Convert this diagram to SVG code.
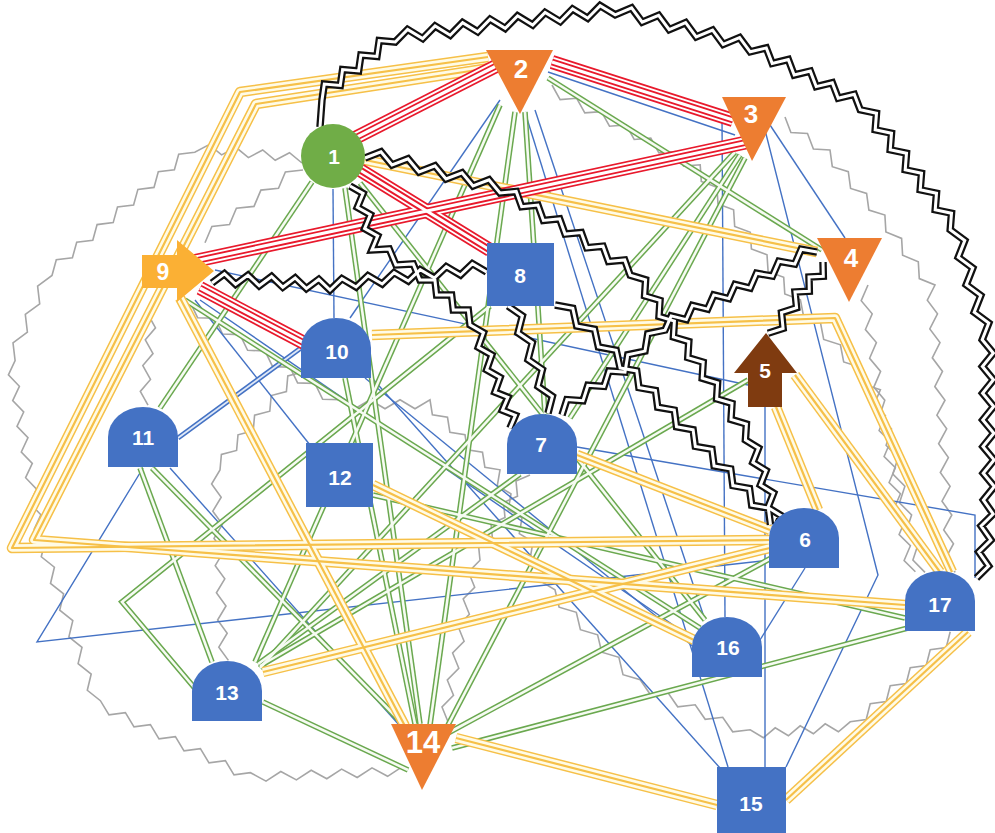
<svg xmlns="http://www.w3.org/2000/svg" xmlns:xlink="http://www.w3.org/1999/xlink" width="995" height="833" viewBox="0 0 995 833">
<style>
.lbl{font-family:"Liberation Sans",Arial,sans-serif;font-weight:bold;fill:#fff;text-anchor:middle}
.blue{fill:#4472c4}
.orange{fill:#ed7d31}
</style>
<defs>
<path id="arch" d="M0,60 V30 A35,30 0 0 1 70,30 V60 Z"/>
<g id="graySet">
<path d="M302,163 l-12.5,-10.3 l-14.3,7.6 l-12.5,-10.3 l-14.3,7.6 l-12.5,-10.3 l-14.3,7.6 l-12.5,-10.3 l-14.3,7.6 l-16.1,2 l-4.3,15.6 l-16.1,2 l-4.3,15.6 l-16.1,2 l-4.3,15.6 l-16.1,2 l-4.3,15.6 l-16.1,2 l-4.3,15.6 l-16.1,2 l-4.3,15.6 l-16.1,2 l-4.3,15.6 l-14.4,10.6 l2.1,17.8 l-14.4,10.6 l2.1,17.8 l-14.4,10.6 l2.1,17.8 l-6.7,14.3 l11,11.4 l-6.7,14.3 l11,11.4 l-6.7,14.3 l11,11.4 l-6.7,14.3 l11,11.4 l-6.7,14.3 l11,11.4 l-6.7,14.3 l11,11.4 l-6.7,14.3 l11,11.4 l-3.9,16.3 l13.1,10.4 l-3.9,16.3 l13.1,10.4 l-3.9,16.3 l13.1,10.4 l-3.9,16.3 l13.1,10.4 l-3.9,16.3 l13.1,10.4 l-3.9,16.3 l13.1,10.4 l8.6,14.1 l16.4,-2.1 l8.6,14.1 l16.4,-2.1 l8.6,14.1 l16.4,-2.1 l8.6,14.1 l16.4,-2.1 l8.6,14.1 l16.4,-2.1 l8.6,14.1 l16.4,-2.1 l15.6,8.4 l14.8,-9.6 l15.6,8.4 l14.8,-9.6 l15.6,8.4 l14.8,-9.6 l15.6,8.4 l14.8,-9.6 l15.6,8.4 l14.8,-9.6"/>
<path d="M785,117 l5.9,15.5 l16.6,1 l5.9,15.5 l16.6,1 l2.3,16.7 l16,5 l2.3,16.7 l16,5 l2.3,16.7 l16,5 l1,16.9 l15.7,6.4 l1,16.9 l15.7,6.4 l1,16.9 l15.7,6.4 l-7.7,15.2 l10.2,13.6 l-7.7,15.2 l10.2,13.6 l-7.7,15.2 l10.2,13.6 l-7.7,15.2 l10.2,13.6 l-8.1,14.9 l9.8,13.8 l-8.1,14.9 l9.8,13.8 l-8.1,14.9 l9.8,13.8 l-8.1,14.9 l9.8,13.8 l-8.1,14.9 l9.8,13.8 l-8.1,14.9 l9.8,13.8"/>
<path d="M868,285 l-6.8,15.7 l11,13.1 l-6.8,15.7 l11,13.1 l-6.8,15.7 l11,13.1 l-6.8,15.7 l11,13.1 l-5.4,16.4 l12.1,12.3 l-5.4,16.4 l12.1,12.3 l-5.4,16.4 l12.1,12.3 l-5.4,16.4 l12.1,12.3 l-5.4,16.4 l12.1,12.3 l-5.4,16.4 l12.1,12.3"/>
<path d="M552,85 l8.1,14.6 l16.6,-1.3 l8.1,14.6 l16.6,-1.3 l8.1,14.6 l16.6,-1.3 l8.1,14.6 l16.6,-1.3 l8.1,14.6 l16.6,-1.3 l8.1,14.6 l16.6,-1.3 l1.1,16.6 l15.6,5.9 l1.1,16.6 l15.6,5.9 l1.1,16.6 l15.6,5.9 l1.1,16.6 l15.6,5.9 l1.1,16.6 l15.6,5.9 l1.1,16.6 l15.6,5.9 l3.3,17.2 l16.7,5.3 l3.3,17.2 l16.7,5.3 l3.3,17.2 l16.7,5.3 l3.3,17.2 l16.7,5.3 l-6.3,14.7 l11.3,11.3 l-6.3,14.7 l11.3,11.3 l-6.3,14.7 l11.3,11.3 l-6.3,14.7 l11.3,11.3 l-6.3,14.7 l11.3,11.3 l-6.3,14.7 l11.3,11.3 l-6.3,14.7 l11.3,11.3"/>
<path d="M190,302 l7.6,15.7 l17.4,0.6 l7.6,15.7 l17.4,0.6 l7.6,15.7 l17.4,0.6 l7.6,15.7 l17.4,0.6 l7.6,15.7 l17.4,0.6 l7.6,15.7 l17.4,0.6 l15,9 l15,-9 l15,9 l15,-9 l15,9 l15,-9 l2.4,15.1 l15.1,2.4 l2.4,15.1 l15.1,2.4 l2.4,15.1 l15.1,2.4 l2.4,15.1 l15.1,2.4 l-2.7,15.8 l13.7,8.2 l-2.7,15.8 l13.7,8.2 l-2.7,15.8 l13.7,8.2 l-2.7,15.8 l13.7,8.2 l-2.7,15.8 l13.7,8.2 l4.1,17.4 l17.2,5.1 l4.1,17.4 l17.2,5.1 l4.1,17.4 l17.2,5.1 l4.1,17.4 l17.2,5.1 l10,14.5 l17.5,-2 l10,14.5 l17.5,-2 l10,14.5 l17.5,-2 l10,14.5 l17.5,-2 l13.2,8 l11.8,-10 l13.2,8 l11.8,-10 l13.2,8 l11.8,-10 l13.2,8 l11.8,-10 l16,-2.3 l4,-15.7 l16,-2.3 l4,-15.7 l16,-2.3 l4,-15.7 l16,-2.3 l4,-15.7 l16,-2.3 l4,-15.7"/>
<path d="M530,475 l-14,6.1 l1.5,15.2 l-14,6.1 l1.5,15.2 l-14,6.1 l1.5,15.2 l-14,6.1 l1.5,15.2 l-11.5,11.8 l6.2,15.2 l-11.5,11.8 l6.2,15.2 l-11.5,11.8 l6.2,15.2 l-11.5,11.8 l6.2,15.2 l-11.5,11.8 l6.2,15.2 l-11.5,11.8 l6.2,15.2"/>
<path d="M303,170 l-17.6,1.9 l-6.9,16.3 l-17.6,1.9 l-6.9,16.3 l-17.6,1.9 l-6.9,16.3 l-17.6,1.9 l-6.9,16.3"/>
<path d="M158,302 l-10.2,12 l7.7,13.8 l-10.2,12 l7.7,13.8 l-10.2,12 l7.7,13.8 l-10.2,12 l7.7,13.8"/>
<path d="M303,372 l-15.2,4 l-1.4,15.6 l-15.2,4 l-1.4,15.6 l-15.2,4 l-1.4,15.6 l-15.2,4 l-1.4,15.6 l-15.2,4 l-1.4,15.6 l-8.4,14 l9.6,13.2 l-8.4,14 l9.6,13.2 l-8.4,14 l9.6,13.2 l-8.4,14 l9.6,13.2 l-8.4,14 l9.6,13.2 l-8.4,14 l9.6,13.2 l-8.4,14 l9.6,13.2"/>
</g>
<g id="blueSet">
<path d="M333,189 L334,318"/>
<path d="M500,100 L350,318"/>
<path d="M535,110 L705,620"/>
<path d="M525,112 L728,767"/>
<path d="M548,72 L735,135"/>
<path d="M722,118 L725,617"/>
<path d="M770,125 L845,238"/>
<path d="M765,130 L878,575 L786,767"/>
<path d="M765,407 L765,767"/>
<path d="M805,568 L760,640"/>
<path d="M577,447 L975,515 L975,578"/>
<path d="M143,468 L37,642 L770,560"/>
<path d="M170,468 L400,726"/>
<path d="M372,378 L720,768"/>
<path d="M365,378 L695,648"/>
<path d="M195,300 L310,445"/>
<path d="M200,300 L695,640"/>
<path d="M215,270 L748,385"/>
</g>
<g id="greenSet">
<path d="M500,105 L255,662"/>
<path d="M515,112 L430,725"/>
<path d="M525,112 L545,414"/>
<path d="M548,78 L822,250"/>
<path d="M735,152 L260,668"/>
<path d="M745,158 L448,725"/>
<path d="M740,155 L570,418"/>
<path d="M345,188 L420,724"/>
<path d="M312,182 L160,408"/>
<path d="M490,306 L122,602 L198,692"/>
<path d="M152,468 L405,726"/>
<path d="M140,468 L212,662"/>
<path d="M263,702 L408,770"/>
<path d="M452,748 L908,628"/>
<path d="M448,733 L775,556"/>
<path d="M373,495 L905,618"/>
<path d="M260,666 L748,380"/>
<path d="M258,664 L520,474"/>
<path d="M185,300 L700,628"/>
<path d="M345,378 L415,724"/>
<path d="M360,183 L705,620"/>
</g>
<g id="yellowSet">
<path d="M488,57 L240,92 L12,548 L770,540"/>
<path d="M490,68 L256,104 L34,540 L905,605"/>
<path d="M365,160 L817,252"/>
<path d="M372,335 L835,318 L952,572"/>
<path d="M795,375 L940,572"/>
<path d="M776,407 L818,510"/>
<path d="M577,455 L770,530"/>
<path d="M373,485 L694,640"/>
<path d="M263,672 L770,548"/>
<path d="M180,298 L405,726"/>
<path d="M456,738 L717,805"/>
<path d="M786,800 L968,632"/>
</g>
<g id="redSet">
<path d="M355,138 L500,64"/>
<path d="M552,62 L733,120"/>
<path d="M190,262 L748,142"/>
<path d="M360,170 L490,250"/>
<path d="M200,288 L308,345"/>
</g>
<g id="blackSet">
<path d="M320,127 L322,100 l2.3,-15.9 l16,1.4 l2.3,-15.9 l16,1.4 l2.3,-15.9 l16,1.4 l2.3,-15.9 l16,1.4 l12.4,-12.6 l15.1,9.2 l12.4,-12.6 l15.1,9.2 l12.4,-12.6 l15.1,9.2 l12.4,-12.6 l15.1,9.2 l12.4,-12.6 l15.1,9.2 l12.4,-12.6 l15.1,9.2 l12.4,-12.6 l15.1,9.2 l12.4,-12.6 l15.1,9.2 l16.4,-6.9 l10.6,14.3 l16.4,-6.9 l10.6,14.3 l16.4,-6.9 l10.6,14.3 l16.4,-6.9 l10.6,14.3 l16.4,-6.9 l10.6,14.3 l16.1,-3.9 l5.9,15.5 l16.1,-3.9 l5.9,15.5 l16.1,-3.9 l5.9,15.5 l16.1,-3.9 l5.9,15.5 l16.1,-3.9 l5.9,15.5 l16.3,3.4 l-1.3,16.6 l16.3,3.4 l-1.3,16.6 l16.3,3.4 l-1.3,16.6 l16.3,3.4 l-1.3,16.6 l16.3,3.4 l-1.3,16.6 l16.3,3.4 l-1.3,16.6 l14.6,10.7 l-6.6,16.8 l14.6,10.7 l-6.6,16.8 l14.6,10.7 l-6.6,16.8 l14.6,10.7 l-6.6,16.8 l11.1,13.3 l-10.9,13.4 l11.1,13.3 l-10.9,13.4 l11.1,13.3 l-10.9,13.4 l11.1,13.3 l-10.9,13.4 l11.1,13.3 l-10.9,13.4 l11.1,13.3 l-10.9,13.4 l9.8,14 l-12.1,12 l9.8,14 l-12.1,12 l9.8,14 l-12.1,12"/>
<path d="M365,158 l16,-6.2 l11,13.2 l16,-6.2 l11,13.2 l16,-6.2 l11,13.2 l16,-6.2 l11,13.2 l16,-6.2 l11,13.2 l16.2,-1.6 l5.5,15.3 l16.2,-1.6 l5.5,15.3 l16.2,-1.6 l5.5,15.3 l16.2,-1.6 l5.5,15.3 l16.2,-1.6 l5.5,15.3 l16.2,-1.6 l5.5,15.3 l15.4,4.6 l-1,16 l15.4,4.6 l-1,16 l15.4,4.6 l-1,16 l15.4,4.6 l-1,16 l15.4,4.6 l-1,16 l15.4,4.6 l-1,16 l15.4,4.6 l-1,16 l15.4,4.6 l-1,16 l13.2,8.1 l-5.7,14.4 l13.2,8.1 l-5.7,14.4 l13.2,8.1 l-5.7,14.4 l13.2,8.1 l-5.7,14.4"/>
<path d="M555,305 l17.8,3.3 l3.9,17.7 l17.8,3.3 l3.9,17.7 l17.8,3.3 l3.9,17.7 l16.6,2.9 l2.2,16.7 l16.6,2.9 l2.2,16.7 l16.6,2.9 l2.2,16.7 l16.6,2.9 l2.2,16.7 l16.6,2.9 l2.2,16.7 l16.6,2.9 l2.2,16.7 l16.6,2.9 l2.2,16.7 l16.6,2.9 l2.2,16.7"/>
<path d="M562,415 l4.9,-15.4 l16.1,1.1 l4.9,-15.4 l16.1,1.1 l4.9,-15.4 l16.1,1.1 l2.8,-17.4 l17.2,-3.6 l2.8,-17.4 l17.2,-3.6 l6.2,-14.2 l15.1,3.7 l6.2,-14.2 l15.1,3.7 l6.2,-14.2 l15.1,3.7 l6.2,-14.2 l15.1,3.7 l6.4,-14.8 l15.9,2.8 l6.4,-14.8 l15.9,2.8 l6.4,-14.8 l15.9,2.8"/>
<path d="M823,262 l0.3,14.3 l-14.3,0.7 l0.3,14.3 l-14.3,0.7 l1.6,15.8 l-15.1,4.8 l1.6,15.8 l-15.1,4.8"/>
<path d="M212,283 l12.4,-9.3 l11.2,10.7 l12.4,-9.3 l11.2,10.7 l12.4,-9.3 l11.2,10.7 l12.4,-9.3 l11.2,10.7 l12.4,-9.3 l11.2,10.7 l11.9,-11.4 l14.2,8.4 l11.9,-11.4 l14.2,8.4 l11.9,-11.4 l14.2,8.4 l11.9,-11.4 l14.2,8.4 l11.9,-11.4 l14.2,8.4 l11.9,-11.4 l14.2,8.4"/>
<path d="M350,186 l13.1,7.4 l-5.8,13.9 l13.1,7.4 l-5.8,13.9 l13.1,7.4 l-5.8,13.9 l17.3,-1 l6.7,16 l17.3,-1 l6.7,16 l15,0.1 l1.7,14.9 l15,0.1 l1.7,14.9 l15,0.1 l1.7,14.9 l13.5,7.7 l-5.2,14.7 l13.5,7.7 l-5.2,14.7 l13.5,7.7 l-5.2,14.7 l13,5.2 l-5.5,12.9 l13,5.2 l-5.5,12.9"/>
<path d="M508,306 l14.4,9.9 l-4.4,16.9 l14.4,9.9 l-4.4,16.9 l14.4,9.9 l-4.4,16.9 l14.4,9.9 l-4.4,16.9"/>
</g>
</defs>
<rect width="995" height="833" fill="#fff"/>
<g id="connectors" fill="none">
<use xlink:href="#graySet" href="#graySet" stroke="#a6a6a6" stroke-width="1.6"/>
<use xlink:href="#blueSet" href="#blueSet" stroke="#4472c4" stroke-width="1.4"/>
<path d="M178,438 L305,345" stroke="#4472c4" stroke-width="5"/>
<path d="M178,438 L305,345" stroke="#dfe8f7" stroke-width="1.8"/>
<use xlink:href="#greenSet" href="#greenSet" stroke="#6aa84f" stroke-width="5.6"/>
<use xlink:href="#greenSet" href="#greenSet" stroke="#f6fbf2" stroke-width="2.6"/>
<use xlink:href="#yellowSet" href="#yellowSet" stroke="#f6c048" stroke-width="10.5" stroke-linejoin="round"/>
<use xlink:href="#yellowSet" href="#yellowSet" stroke="#fffbe6" stroke-width="7.5" stroke-linejoin="round"/>
<use xlink:href="#yellowSet" href="#yellowSet" stroke="#f6c048" stroke-width="2.2" stroke-linejoin="round"/>
<use xlink:href="#redSet" href="#redSet" stroke="#e8192c" stroke-width="14"/>
<use xlink:href="#redSet" href="#redSet" stroke="#ffffff" stroke-width="10.6"/>
<use xlink:href="#redSet" href="#redSet" stroke="#e8192c" stroke-width="6.8"/>
<use xlink:href="#redSet" href="#redSet" stroke="#ffffff" stroke-width="3.2"/>
<use xlink:href="#blackSet" href="#blackSet" stroke="#111111" stroke-width="7.5"/>
<use xlink:href="#blackSet" href="#blackSet" stroke="#ffffff" stroke-width="3"/>
</g>
<g id="node-1"><circle cx="333" cy="156" r="32" fill="#70ad47"/><text class="lbl" x="334" y="164" font-size="21">1</text></g>
<g id="node-2"><polygon class="orange" points="486,50 553,50 520,114"/><text class="lbl" x="521" y="78" font-size="26">2</text></g>
<g id="node-3"><polygon class="orange" points="722,97 786,97 752,161"/><text class="lbl" x="751" y="123" font-size="26">3</text></g>
<g id="node-4"><polygon class="orange" points="817,238 882,238 849,302"/><text class="lbl" x="851" y="267" font-size="26">4</text></g>
<g id="node-5"><polygon fill="#7f3b10" points="766,333 797,373 782,373 782,407 748,407 748,373 734,373"/><text class="lbl" x="765" y="378" font-size="21">5</text></g>
<g id="node-6"><use xlink:href="#arch" href="#arch" class="blue" x="769" y="508"/><text class="lbl" x="805" y="547" font-size="21">6</text></g>
<g id="node-7"><use xlink:href="#arch" href="#arch" class="blue" x="507" y="414"/><text class="lbl" x="541" y="452" font-size="21">7</text></g>
<g id="node-8"><rect class="blue" x="487" y="243" width="67" height="63"/><text class="lbl" x="520" y="283" font-size="21">8</text></g>
<g id="node-9"><polygon fill="#fbb034" points="142,255 177,255 177,240 214,271 177,302 177,288 142,288"/><text class="lbl" x="163" y="280" font-size="23">9</text></g>
<g id="node-10"><use xlink:href="#arch" href="#arch" class="blue" x="301" y="318"/><text class="lbl" x="337" y="359" font-size="21">10</text></g>
<g id="node-11"><use xlink:href="#arch" href="#arch" class="blue" x="108" y="407"/><text class="lbl" x="143" y="445" font-size="21">11</text></g>
<g id="node-12"><rect class="blue" x="306" y="443" width="67" height="64"/><text class="lbl" x="340" y="485" font-size="21">12</text></g>
<g id="node-13"><use xlink:href="#arch" href="#arch" class="blue" x="192" y="661"/><text class="lbl" x="227" y="700" font-size="21">13</text></g>
<g id="node-14"><polygon class="orange" points="391,724 456,724 422,790"/><text class="lbl" x="423" y="753" font-size="31">14</text></g>
<g id="node-15"><rect class="blue" x="717" y="767" width="69" height="66"/><text class="lbl" x="751" y="811" font-size="21">15</text></g>
<g id="node-16"><use xlink:href="#arch" href="#arch" class="blue" x="692" y="617"/><text class="lbl" x="728" y="655" font-size="21">16</text></g>
<g id="node-17"><use xlink:href="#arch" href="#arch" class="blue" x="905" y="571"/><text class="lbl" x="940" y="612" font-size="21">17</text></g>
</svg>
